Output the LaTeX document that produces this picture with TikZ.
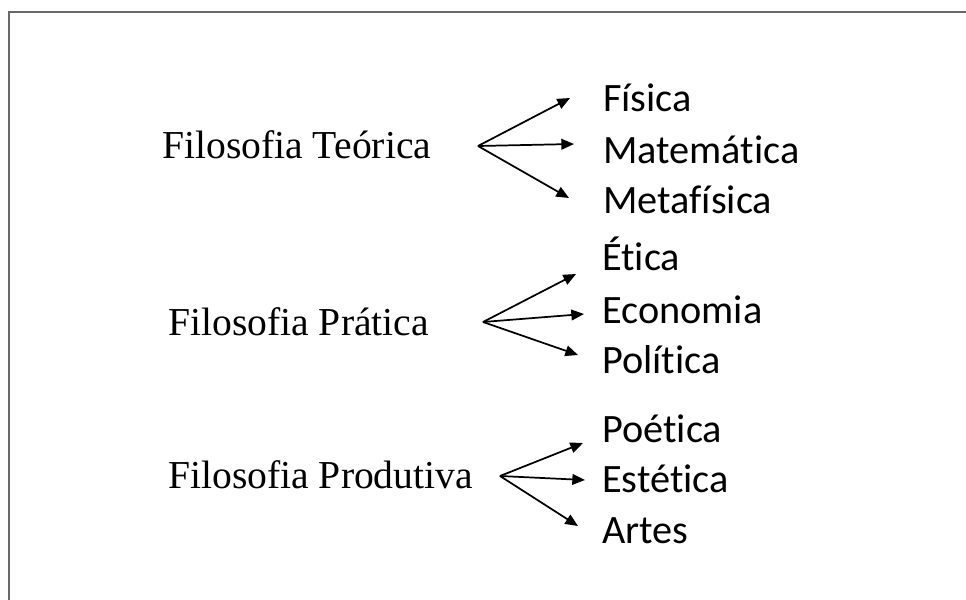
\documentclass[tikz,border=0pt]{standalone}
\usepackage{fontspec}
\setmainfont{Liberation Serif}
\newfontfamily\calib[Ligatures=NoCommon]{Carlito}
\usetikzlibrary{arrows.meta}
\definecolor{framegray}{RGB}{105,105,105}
\tikzset{
  mainlabel/.style={anchor=base west, inner sep=0pt, font=\fontsize{29.7}{35}\selectfont},
  sublabel/.style={anchor=base west, inner sep=0pt, font=\calib\fontsize{30.2}{36}\selectfont},
  branch/.style={line width=1.3pt, -{Triangle[length=9.5pt,width=8pt]}},
  frameline/.style={line width=1.9pt, draw=framegray}
}
\begin{document}
\begin{tikzpicture}[x=0.75pt,y=-0.75pt]
\useasboundingbox (0,0) rectangle (966,599);
% frame (open to the right and bottom)
\coordinate (fbl) at (9,600);
\coordinate (ftl) at (9,12);
\coordinate (ftr) at (967,12);
\draw[frameline] (fbl) -- (ftl) -- (ftr);

% group 1
\node[mainlabel] (teo) at (162,158) {Filosofia Teórica};
\coordinate (o1) at (478,146);
\node[sublabel] (fis) at (603,112) {Física};
\node[sublabel] (mat) at (603,163) {Matemática};
\node[sublabel] (met) at (603,213) {Metafísica};
\coordinate (t11) at (570,98);
\coordinate (t12) at (574,144);
\coordinate (t13) at (569,198);
\draw[branch] (o1) -- (t11);
\draw[branch] (o1) -- (t12);
\draw[branch] (o1) -- (t13);

% group 2
\node[mainlabel] (pra) at (168,335) {Filosofia Prática};
\coordinate (o2) at (483,322);
\node[sublabel] (eti) at (602,270) {Ética};
\node[sublabel] (eco) at (602,323) {Economia};
\node[sublabel] (pol) at (602,373) {Política};
\coordinate (t21) at (576,274);
\coordinate (t22) at (584,314);
\coordinate (t23) at (578,355);
\draw[branch] (o2) -- (t21);
\draw[branch] (o2) -- (t22);
\draw[branch] (o2) -- (t23);

% group 3
\node[mainlabel] (pro) at (168,488) {Filosofia Produtiva};
\coordinate (o3) at (500,476);
\node[sublabel] (poe) at (602,442) {Poética};
\node[sublabel] (est) at (602,492) {Estética};
\node[sublabel] (art) at (602,543) {Artes};
\coordinate (t31) at (583,443);
\coordinate (t32) at (585,480);
\coordinate (t33) at (578,526);
\draw[branch] (o3) -- (t31);
\draw[branch] (o3) -- (t32);
\draw[branch] (o3) -- (t33);
\end{tikzpicture}
\end{document}
